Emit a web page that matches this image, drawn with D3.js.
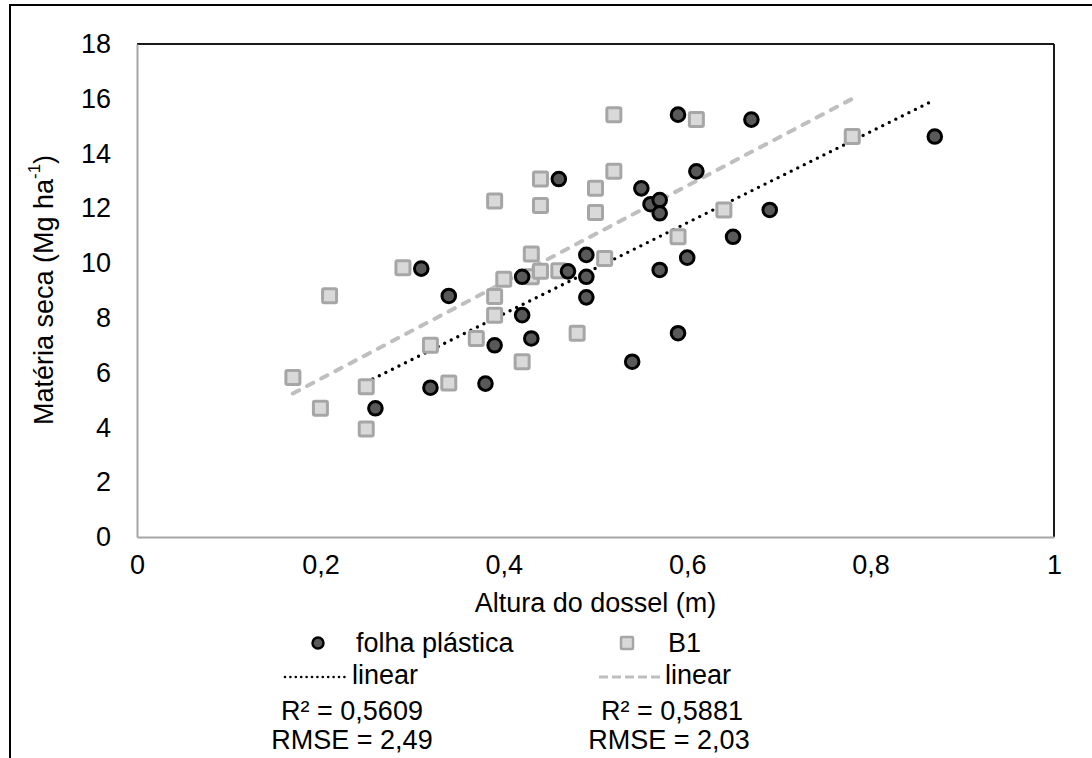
<!DOCTYPE html>
<html>
<head>
<meta charset="utf-8">
<script src="https://cdn.jsdelivr.net/npm/d3@7"></script>
<style>
  html, body { margin: 0; padding: 0; background: #fff; }
  svg { display: block; }
  text { font-family: Arial, "Liberation Sans", sans-serif; fill: #000; }
</style>
</head>
<body>
<svg id="chart" width="1092" height="758"></svg>
<script>
// ---- Data ----
const folhaX = [0.26, 0.31, 0.32, 0.34, 0.38, 0.39, 0.42, 0.42, 0.43, 0.46, 0.47, 0.49, 0.49, 0.49,
                0.54, 0.55, 0.56, 0.57, 0.57, 0.57, 0.59, 0.59, 0.60, 0.61, 0.65, 0.67, 0.69, 0.87];
const folhaY = [4.70, 9.80, 5.45, 8.80, 5.60, 7.00, 8.10, 9.50, 7.25, 13.07, 9.70, 10.30, 9.50, 8.75,
                6.40, 12.73, 12.15, 12.30, 11.82, 9.75, 15.42, 7.44, 10.20, 13.35, 10.96, 15.24, 11.94, 14.62];

const b1X = [0.17, 0.20, 0.21, 0.25, 0.25, 0.29, 0.32, 0.34, 0.37, 0.39, 0.39, 0.39, 0.40, 0.42, 0.43,
             0.43, 0.44, 0.44, 0.44, 0.46, 0.48, 0.50, 0.50, 0.51, 0.52, 0.52, 0.59, 0.61, 0.64, 0.78];
const b1Y = [5.82, 4.70, 8.81, 5.49, 3.94, 9.83, 7.00, 5.62, 7.25, 12.27, 8.78, 8.10, 9.41, 6.40, 10.33,
             9.50, 13.07, 12.10, 9.70, 9.72, 7.44, 12.73, 11.85, 10.17, 15.42, 13.35, 10.96, 15.24, 11.94, 14.62];

// Trend lines (endpoints)
const folhaTrendX = [0.25, 0.865];
const folhaTrendY = [5.65, 15.88];
const b1TrendX = [0.17, 0.78];
const b1TrendY = [5.24, 16.0];

const xTicks = [0, 0.2, 0.4, 0.6, 0.8, 1];
const yTicks = [0, 2, 4, 6, 8, 10, 12, 14, 16, 18];

const seriesNames = ["folha plástica", "B1"];
const trendName = "linear";
const r2Labels = ["R² = 0,5609", "R² = 0,5881"];
const rmseLabels = ["RMSE = 2,49", "RMSE = 2,03"];
const xTitle = "Altura do dossel (m)";

// ---- Layout ----
const svg = d3.select("#chart");
const L = 137, R = 1054, T = 44, B = 537;
const x = d3.scaleLinear().domain([0, 1]).range([L, R]);
const y = d3.scaleLinear().domain([0, 18]).range([B, T]);
const loc = d3.formatLocale({decimal: ",", thousands: ".", grouping: [3], currency: ["", ""]});
const fmt = loc.format("~g");
const FS = 27;

// outer chart border
svg.append("rect").attr("x", 10).attr("y", 5).attr("width", 1200).attr("height", 900)
  .attr("fill", "none").attr("stroke", "#000").attr("stroke-width", 2);

// plot area border top/right
svg.append("line").attr("x1", L).attr("x2", R).attr("y1", T).attr("y2", T)
  .attr("stroke", "#1a1a1a").attr("stroke-width", 2);
svg.append("line").attr("x1", R).attr("x2", R).attr("y1", T).attr("y2", B)
  .attr("stroke", "#1a1a1a").attr("stroke-width", 2);

// axes
const gx = svg.append("g").attr("transform", `translate(0,${B})`)
  .call(d3.axisBottom(x).tickValues(xTicks).tickSize(0).tickPadding(18).tickFormat(fmt));
const gy = svg.append("g").attr("transform", `translate(${L},0)`)
  .call(d3.axisLeft(y).tickValues(yTicks).tickSize(0).tickPadding(26).tickFormat(fmt));
[gx, gy].forEach(g => {
  g.select(".domain").attr("stroke", "#a6a6a6").attr("stroke-width", 2);
  g.selectAll("text").attr("font-size", FS).attr("font-family", "Arial, 'Liberation Sans', sans-serif").attr("fill", "#000");
});

// axis titles
svg.append("text").attr("x", (L + R) / 2).attr("y", 603).attr("text-anchor", "middle")
  .attr("dominant-baseline", "central").attr("font-size", FS).text(xTitle);
const yt = svg.append("text").attr("transform", "translate(44,290) rotate(-90)")
  .attr("text-anchor", "middle").attr("dominant-baseline", "central").attr("font-size", FS);
yt.append("tspan").text("Matéria seca (Mg ha");
yt.append("tspan").attr("font-size", 17).attr("dy", -10).text("-1");
yt.append("tspan").attr("dy", 10).text(")");

// trend lines
const line = d3.line().x(d => x(d[0])).y(d => y(d[1]));
svg.append("path").datum(d3.zip(b1TrendX, b1TrendY)).attr("d", line)
  .attr("fill", "none").attr("stroke", "#bfbfbf").attr("stroke-width", 4)
  .attr("stroke-linecap", "round").attr("stroke-dasharray", "7,9");
svg.append("path").datum(d3.zip(folhaTrendX, folhaTrendY)).attr("d", line)
  .attr("fill", "none").attr("stroke", "#000").attr("stroke-width", 3.4)
  .attr("stroke-linecap", "round").attr("stroke-dasharray", "0,7.3");

// points: squares (B1) then circles (folha plástica)
const SQ = 14;
svg.append("g").selectAll("rect").data(d3.zip(b1X, b1Y)).join("rect")
  .attr("x", d => x(d[0]) - SQ / 2).attr("y", d => y(d[1]) - SQ / 2)
  .attr("width", SQ).attr("height", SQ).attr("rx", 1.5)
  .attr("fill", "#d9d9d9").attr("stroke", "#a6a6a6").attr("stroke-width", 3);
svg.append("g").selectAll("circle").data(d3.zip(folhaX, folhaY)).join("circle")
  .attr("cx", d => x(d[0])).attr("cy", d => y(d[1])).attr("r", 6.8)
  .attr("fill", "#595959").attr("stroke", "#000").attr("stroke-width", 3);

// legend
const lg = svg.append("g").attr("font-size", FS);
lg.append("circle").attr("cx", 318).attr("cy", 643).attr("r", 5.5)
  .attr("fill", "#595959").attr("stroke", "#000").attr("stroke-width", 2.5);
lg.append("text").attr("x", 356).attr("y", 643).attr("dominant-baseline", "central").text(seriesNames[0]);
lg.append("rect").attr("x", 627 - 6).attr("y", 643 - 6).attr("width", 12).attr("height", 12).attr("rx", 1)
  .attr("fill", "#d9d9d9").attr("stroke", "#a6a6a6").attr("stroke-width", 2.5);
lg.append("text").attr("x", 668).attr("y", 643).attr("dominant-baseline", "central").text(seriesNames[1]);

lg.append("line").attr("x1", 285).attr("x2", 345).attr("y1", 677).attr("y2", 677)
  .attr("stroke", "#000").attr("stroke-width", 2.6).attr("stroke-linecap", "round").attr("stroke-dasharray", "0,5.4");
lg.append("text").attr("x", 352).attr("y", 675).attr("dominant-baseline", "central").text(trendName);
lg.append("line").attr("x1", 599).attr("x2", 660).attr("y1", 677).attr("y2", 677)
  .attr("stroke", "#bfbfbf").attr("stroke-width", 3.2).attr("stroke-dasharray", "9,4");
lg.append("text").attr("x", 665).attr("y", 675).attr("dominant-baseline", "central").text(trendName);

lg.append("text").attr("x", 352).attr("y", 711).attr("text-anchor", "middle").attr("dominant-baseline", "central").text(r2Labels[0]);
lg.append("text").attr("x", 672).attr("y", 711).attr("text-anchor", "middle").attr("dominant-baseline", "central").text(r2Labels[1]);
lg.append("text").attr("x", 352).attr("y", 740).attr("text-anchor", "middle").attr("dominant-baseline", "central").text(rmseLabels[0]);
lg.append("text").attr("x", 669).attr("y", 740).attr("text-anchor", "middle").attr("dominant-baseline", "central").text(rmseLabels[1]);
</script>
</body>
</html>
